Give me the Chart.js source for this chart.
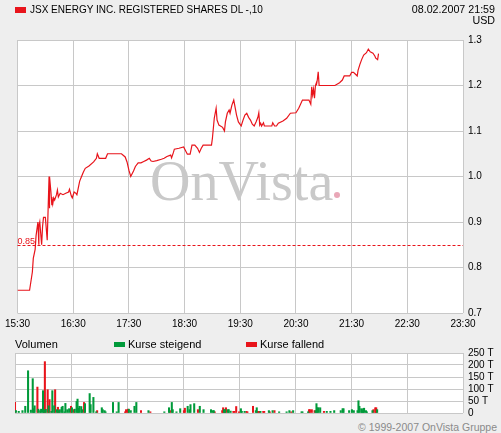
<!DOCTYPE html>
<html><head><meta charset="utf-8">
<script src="https://cdn.jsdelivr.net/npm/chart.js@4.4.0/dist/chart.umd.min.js"></script>
<style>
html,body{margin:0;padding:0;background:#eeeeee;width:501px;height:433px;overflow:hidden;font-family:"Liberation Sans",Arial,sans-serif;color:#000;}
.abs{position:absolute;white-space:nowrap;line-height:11px;z-index:2;}
canvas{position:absolute;left:0;}
</style></head><body>
<div class="abs" style="left:15px;top:7px;width:11px;height:6px;background:#e8141b"></div>
<div class="abs" style="left:30px;top:4px;font-size:10px">JSX ENERGY INC. REGISTERED SHARES DL -,10</div>
<div class="abs" style="right:6px;top:4px;text-align:right;font-size:10.7px">08.02.2007 21:59<br>USD</div>
<canvas id="price" width="501" height="330" style="top:0"></canvas>
<div class="abs" style="left:15px;top:339px;font-size:11px">Volumen</div>
<div class="abs" style="left:114px;top:342px;width:11px;height:5px;background:#009a3a"></div>
<div class="abs" style="left:128px;top:339px;font-size:11px">Kurse steigend</div>
<div class="abs" style="left:246px;top:342px;width:11px;height:5px;background:#e8141b"></div>
<div class="abs" style="left:260px;top:339px;font-size:11px">Kurse fallend</div>
<canvas id="vol" width="501" height="80" style="top:340px"></canvas>
<div class="abs" style="right:4px;top:422px;font-size:10.5px;color:#8a8a8a">© 1999-2007 OnVista Gruppe</div>
<script>
// ---- data ----
const startTime = "15:30";
const xTickLabels = ["15:30","16:30","17:30","18:30","19:30","20:30","21:30","22:30","23:30"];
const refLevel = 0.85;
const priceTimes = ["15:30","15:43","15:46","15:47","15:49","15:50","15:52","15:53","15:53","15:54","15:56","15:57","15:58","16:00","16:02","16:03","16:04","16:04","16:05","16:06","16:07","16:07","16:08","16:09","16:10","16:12","16:13","16:14","16:16","16:19","16:22","16:25","16:26","16:28","16:29","16:31","16:33","16:34","16:36","16:37","16:39","16:41","16:43","16:47","16:52","16:55","16:56","16:58","17:05","17:07","17:22","17:26","17:28","17:30","17:32","17:35","17:37","17:40","17:43","17:46","17:49","17:52","17:54","17:56","18:00","18:05","18:08","18:11","18:15","18:16","18:18","18:19","18:24","18:29","18:33","18:36","18:38","18:41","18:44","18:46","18:48","18:50","18:59","19:00","19:02","19:04","19:05","19:07","19:11","19:13","19:14","19:16","19:18","19:19","19:21","19:23","19:24","19:26","19:28","19:31","19:33","19:35","19:37","19:39","19:41","19:43","19:45","19:47","19:49","19:50","19:51","19:52","19:53","19:55","19:56","20:04","20:05","20:07","20:09","20:11","20:16","20:20","20:24","20:30","20:33","20:37","20:44","20:46","20:47","20:48","20:49","20:50","20:51","20:52","20:52","20:53","20:54","20:55","21:12","21:17","21:20","21:22","21:28","21:30","21:32","21:35","21:36","21:37","21:39","21:41","21:43","21:46","21:48","21:50","21:53","21:55","21:56","21:58","21:59"];
const prices = [0.75,0.75,0.79,0.82,0.84,0.87,0.90,0.85,0.89,0.90,0.85,0.89,0.91,0.91,0.86,0.93,1.00,0.93,1.00,0.966,0.937,0.955,0.94,0.953,0.948,0.96,0.97,0.955,0.963,0.96,0.963,0.966,0.972,0.957,0.953,0.966,0.963,0.96,0.98,0.99,1.00,1.01,1.018,1.023,1.032,1.04,1.05,1.04,1.04,1.05,1.05,1.043,1.032,1.014,1.00,1.012,1.022,1.03,1.03,1.033,1.036,1.04,1.034,1.033,1.035,1.038,1.04,1.044,1.047,1.041,1.053,1.06,1.062,1.065,1.049,1.049,1.069,1.069,1.062,1.053,1.062,1.069,1.069,1.084,1.128,1.15,1.124,1.113,1.108,1.10,1.12,1.139,1.146,1.139,1.157,1.168,1.157,1.135,1.12,1.111,1.124,1.135,1.139,1.13,1.124,1.115,1.111,1.12,1.13,1.14,1.113,1.117,1.111,1.118,1.111,1.111,1.118,1.111,1.111,1.117,1.122,1.128,1.139,1.14,1.15,1.168,1.168,1.159,1.197,1.179,1.192,1.172,1.20,1.206,1.20,1.212,1.23,1.20,1.20,1.206,1.212,1.221,1.221,1.229,1.229,1.223,1.221,1.234,1.247,1.258,1.267,1.272,1.28,1.274,1.271,1.265,1.26,1.257,1.27];
const priceTicks = [0.7,0.8,0.9,1.0,1.1,1.2,1.3];
const volTimes = ["15:30","15:31","15:34","15:38","15:41","15:44","15:47","15:49","15:50","15:51","15:54","15:55","15:57","15:58","16:00","16:01","16:02","16:03","16:05","16:06","16:07","16:09","16:10","16:12","16:13","16:15","16:16","16:17","16:18","16:20","16:21","16:23","16:24","16:26","16:28","16:30","16:31","16:33","16:34","16:36","16:37","16:38","16:39","16:41","16:42","16:44","16:45","16:50","16:51","16:54","16:57","16:58","17:03","17:04","17:06","17:07","17:15","17:19","17:21","17:28","17:29","17:31","17:32","17:34","17:38","17:40","17:45","17:53","17:55","18:10","18:15","18:16","18:18","18:19","18:23","18:27","18:31","18:32","18:35","18:37","18:38","18:42","18:46","18:48","18:52","19:00","19:02","19:03","19:04","19:12","19:13","19:14","19:15","19:16","19:18","19:19","19:21","19:24","19:25","19:27","19:30","19:32","19:33","19:36","19:38","19:39","19:45","19:48","19:49","19:50","19:51","19:52","19:53","19:56","19:57","20:02","20:03","20:06","20:08","20:13","20:21","20:24","20:26","20:28","20:37","20:38","20:44","20:45","20:46","20:48","20:51","20:52","20:53","20:54","20:55","20:57","21:01","21:04","21:08","21:12","21:19","21:21","21:22","21:28","21:31","21:33","21:37","21:38","21:39","21:41","21:42","21:43","21:44","21:46","21:47","21:53","21:54","21:56","21:57","21:58"];
const volValues = [44,10,7,10,28,176,12,143,18,30,108,16,10,16,93,12,214,15,97,30,56,7,93,30,97,14,24,10,14,24,28,5,40,14,18,28,22,14,16,48,58,20,28,27,14,44,39,81,35,65,5,10,22,14,10,5,44,5,44,5,14,16,16,10,28,44,10,10,5,5,22,10,44,14,5,18,10,20,28,14,35,39,14,28,14,14,10,10,5,10,22,14,14,22,14,14,8,7,7,27,5,18,7,7,7,5,28,10,22,7,7,7,7,7,7,10,5,10,10,5,5,10,5,10,5,5,5,14,14,14,10,10,39,22,22,22,7,7,7,10,10,18,18,10,14,10,10,51,28,18,10,18,20,10,5,10,14,22,22,14];
const volRising = [0,1,1,1,1,1,1,1,1,1,0,1,1,1,1,1,0,1,0,1,0,1,1,1,0,1,0,1,1,1,1,1,1,1,1,0,1,0,1,1,1,1,1,1,1,0,1,1,1,1,1,0,1,1,1,1,1,1,1,0,0,0,1,1,1,1,0,1,0,1,1,0,1,1,1,1,0,0,1,1,1,1,0,1,1,1,1,1,0,0,0,1,1,0,1,1,1,0,0,0,0,1,1,1,0,0,0,1,1,0,0,0,1,0,0,1,0,1,0,1,1,1,0,1,1,1,1,0,0,0,0,1,1,1,1,1,0,1,1,1,1,1,1,1,1,1,1,1,1,1,1,1,1,1,1,1,0,0,0,1];
const volTicks = [0,50,100,150,200,250];

// ---- helpers ----
function toMin(t){const [h,m]=t.split(':').map(Number);const [h0,m0]=startTime.split(':').map(Number);return (h*60+m)-(h0*60+m0);}
function minLabel(v){const [h0,m0]=startTime.split(':').map(Number);const t=h0*60+m0+v;const h=Math.floor(t/60),m=t%60;return h+':'+String(m).padStart(2,'0');}
const FONT = '"Liberation Sans", Arial, sans-serif';
const GRID = '#c8c8c8';
const RED = '#e8141b', GREEN = '#009a3a';

const plotBg = {id:'plotBg',beforeDraw(c){const a=c.chartArea,ctx=c.ctx;ctx.save();ctx.fillStyle='#ffffff';ctx.fillRect(a.left,a.top,a.right-a.left,a.bottom-a.top);ctx.restore();}};
const watermark = {id:'wm',beforeDatasetsDraw(c){const ctx=c.ctx;ctx.save();ctx.font='56px "Liberation Serif", "Times New Roman", serif';ctx.fillStyle='#c9c9c9';ctx.textBaseline='alphabetic';ctx.fillText('OnVista',150,200);ctx.fillStyle='#e9a7b7';ctx.beginPath();ctx.arc(337,195,3,0,Math.PI*2);ctx.fill();ctx.restore();}};
const refLine = {id:'ref',afterDatasetsDraw(c){const ctx=c.ctx,a=c.chartArea;const y=Math.round(c.scales.y.getPixelForValue(refLevel))+0.5;ctx.save();ctx.strokeStyle='#e8141b';ctx.globalAlpha=1;ctx.lineWidth=1;ctx.setLineDash([3,2]);ctx.beginPath();ctx.moveTo(a.left,y);ctx.lineTo(a.right,y);ctx.stroke();ctx.setLineDash([]);ctx.fillStyle=RED;ctx.font='9px '+FONT;ctx.textBaseline='alphabetic';ctx.fillText(refLevel.toFixed(2),17.5,y-1.5);ctx.restore();}};

const xMax = toMin(xTickLabels[xTickLabels.length-1]);

new Chart(document.getElementById('price'),{
  type:'line',
  data:{datasets:[{data:priceTimes.map((t,i)=>({x:toMin(t),y:prices[i]})),borderColor:RED,borderWidth:1.2,pointRadius:0,tension:0,fill:false}]},
  options:{
    responsive:false,animation:false,devicePixelRatio:1,
    layout:{padding:{left:15,top:40,right:0,bottom:0}},
    plugins:{legend:{display:false},tooltip:{enabled:false}},
    scales:{
      x:{type:'linear',min:0,max:xMax,
         afterBuildTicks(s){s.ticks=xTickLabels.map(t=>({value:toMin(t)}));},
         afterFit(s){s.height=17;},
         grid:{color:GRID,drawTicks:false,lineWidth:1},border:{display:false},
         ticks:{padding:5,maxRotation:0,autoSkip:false,color:'#000',font:{family:FONT,size:10},callback:v=>minLabel(v)}},
      y:{position:'right',min:priceTicks[0],max:priceTicks[priceTicks.length-1],
         afterBuildTicks(s){s.ticks=priceTicks.map(v=>({value:v}));},
         afterFit(s){s.width=38;},
         grid:{color:GRID,drawTicks:false,lineWidth:1},border:{display:false},
         ticks:{padding:5,autoSkip:false,color:'#000',font:{family:FONT,size:10},callback:v=>Number(v).toFixed(1)}}
    }
  },
  plugins:[plotBg,watermark,refLine]
});

const up=[],down=[];
volTimes.forEach((t,i)=>{const p={x:toMin(t),y:volValues[i]};(volRising[i]?up:down).push(p);});
new Chart(document.getElementById('vol'),{
  type:'bar',
  data:{datasets:[
    {data:up,backgroundColor:GREEN,barThickness:1.4,grouped:false},
    {data:down,backgroundColor:RED,barThickness:1.4,grouped:false}
  ]},
  options:{
    responsive:false,animation:false,devicePixelRatio:1,
    layout:{padding:{left:15,top:13,right:0,bottom:7}},
    plugins:{legend:{display:false},tooltip:{enabled:false}},
    scales:{
      x:{type:'linear',min:0,max:xMax,offset:false,
         afterBuildTicks(s){s.ticks=xTickLabels.map(t=>({value:toMin(t)}));},
         afterFit(s){s.height=0;},
         grid:{color:GRID,drawTicks:false,offset:false},border:{display:false},
         ticks:{display:false,autoSkip:false}},
      y:{position:'right',min:0,max:volTicks[volTicks.length-1],
         afterBuildTicks(s){s.ticks=volTicks.map(v=>({value:v}));},
         afterFit(s){s.width=38;s.paddingTop=0;s.paddingBottom=0;},
         grid:{color:GRID,drawTicks:false},border:{display:false},
         ticks:{padding:5,autoSkip:false,color:'#000',font:{family:FONT,size:10},callback:v=>v===0?'0':v+' T'}}
    }
  },
  plugins:[plotBg]
});
</script>
</body></html>
